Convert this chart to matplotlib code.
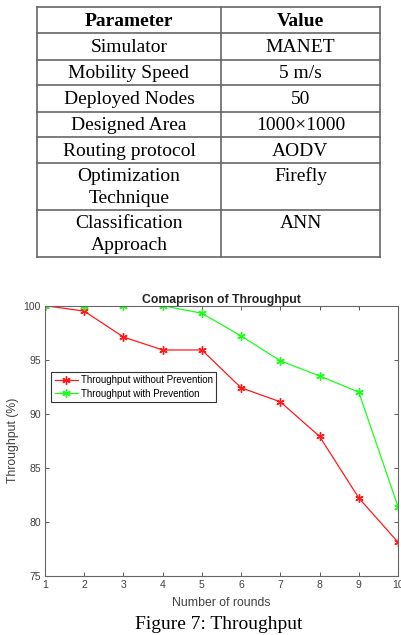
import numpy as np
import matplotlib.pyplot as plt

# -----------------
# Datos
# -----------------

params = ["Simulator", "Mobility Speed", "Deployed Nodes", "Designed Area",
          "Routing protocol", "Optimization\nTechnique", "Classification\nApproach"]
values = ["MANET", "5 m/s", "50", "1000\u00d71000", "AODV", "Firefly", "ANN"]

rounds = [1, 2, 3, 4, 5, 6, 7, 8, 9, 10]
thr_without = [100, 99.5, 97.1, 95.9, 95.9, 92.4, 91.1, 87.9, 82.2, 78.1]
thr_with = [100, 100, 100, 100, 99.3, 97.2, 94.9, 93.5, 92.0, 81.4]

W, H = 401, 635
fig = plt.figure(figsize=(W / 100, H / 100), dpi=100)

# -----------------
# Tabla (en pixeles)
# -----------------

tab = fig.add_axes([0, 0, 1, 1])
tab.set_xlim(0, W)
tab.set_ylim(H, 0)
tab.axis("off")

x0, xm, x1 = 37, 221, 380
row_edges = [7, 33, 60, 85, 112, 137, 163, 210, 257]
lc = "#666666"
serif = "Liberation Serif"
fs = 14

for y in row_edges:
    tab.plot([x0, x1], [y, y], color=lc, lw=1.2)
for x in (x0, xm, x1):
    tab.plot([x, x], [row_edges[0], row_edges[-1]], color=lc, lw=1.2)

tab.text((x0 + xm) / 2, (row_edges[0] + row_edges[1]) / 2 + 1, "Parameter",
         ha="center", va="center", fontsize=fs, fontweight="bold", family=serif)
tab.text((xm + x1) / 2, (row_edges[0] + row_edges[1]) / 2 + 1, "Value",
         ha="center", va="center", fontsize=fs, fontweight="bold", family=serif)

for i, (p, v) in enumerate(zip(params, values)):
    top, bot = row_edges[i + 1], row_edges[i + 2]
    lines = p.split("\n")
    if len(lines) == 1:
        tab.text((x0 + xm) / 2, (top + bot) / 2 + 1, p, ha="center",
                 va="center", fontsize=fs, family=serif)
        tab.text((xm + x1) / 2, (top + bot) / 2 + 1, v, ha="center",
                 va="center", fontsize=fs, family=serif)
    else:
        for k, line in enumerate(lines):
            tab.text((x0 + xm) / 2, top + 13.5 + 22 * k, line, ha="center",
                     va="center", fontsize=fs, family=serif)
        tab.text((xm + x1) / 2, top + 13.5, v, ha="center", va="center",
                 fontsize=fs, family=serif)

tab.text(219, 624.5, "Figure 7: Throughput", ha="center", va="center",
         fontsize=fs, family=serif)

# -----------------
# Grafica
# -----------------

sans = "Liberation Sans"
ax = fig.add_axes([45 / W, 59.3 / H, 353 / W, 270 / H])

star = (6, 2, 0)
ax.plot(rounds, thr_without, color="#ff1a1a", lw=0.9, marker=star, ms=6,
        mew=1.0, label="Throughput without Prevention")
ax.plot(rounds, thr_with, color="#1aff1a", lw=0.9, marker=star, ms=6,
        mew=1.0, label="Throughput with Prevention")

ax.set_xlim(1, 10)
ax.set_ylim(75, 100)
ax.set_xticks(rounds)
ax.set_yticks([75, 80, 85, 90, 95, 100])
ax.tick_params(direction="in", top=True, right=True, length=3, width=0.6,
               labelsize=7.5, colors="#404040", pad=3)
for lab in ax.get_xticklabels() + ax.get_yticklabels():
    lab.set_family(sans)
for s in ax.spines.values():
    s.set_color("#666666")
    s.set_linewidth(0.8)

ax.set_title("Comaprison of Throughput", fontsize=8.8, fontweight="bold",
             family=sans, pad=2, color="#222222")
ax.set_xlabel("Number of rounds", fontsize=8.8, family=sans, color="#404040",
              labelpad=5)
ax.set_ylabel("Throughput (%)", fontsize=8.8, family=sans, color="#404040",
              labelpad=3)

leg = ax.legend(loc="upper left", bbox_to_anchor=(0.018, 0.755),
                prop={"family": sans, "size": 7}, fancybox=False,
                framealpha=1, borderpad=0.35, handlelength=2.4,
                handletextpad=0.3, labelspacing=0.35, borderaxespad=0)
leg.get_frame().set_edgecolor("#333333")
leg.get_frame().set_linewidth(0.8)

fig.savefig("out.png", dpi=100)
